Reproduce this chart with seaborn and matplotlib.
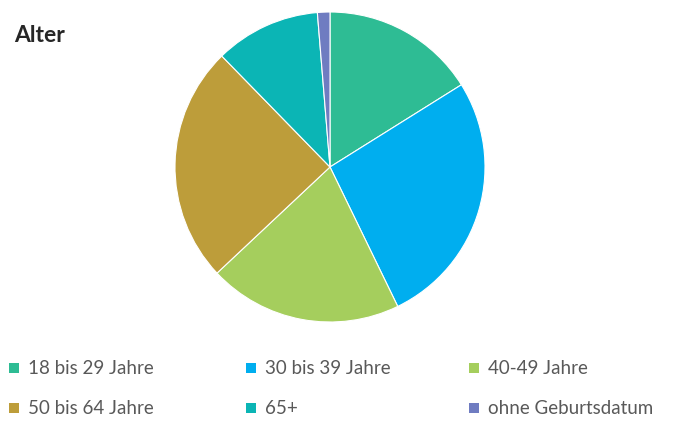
import matplotlib
matplotlib.use("Agg")
import matplotlib.pyplot as plt
import seaborn as sns
from matplotlib.patches import Rectangle

# Daten
kategorien = ["18 bis 29 Jahre", "30 bis 39 Jahre", "40-49 Jahre",
              "50 bis 64 Jahre", "65+", "ohne Geburtsdatum"]
anteile = [16.1, 26.7, 20.2, 24.7, 11.0, 1.3]
farben = ["#2EBC94", "#00AEEF", "#A5CE5D", "#BD9D3A", "#0BB5B5", "#6F7CC1"]

sns.set_theme(style="white")
plt.rcParams["font.family"] = ["Lato", "DejaVu Sans"]

fig = plt.figure(figsize=(6.73, 4.35), dpi=100)
W, H = 673, 435

# Kreis: Mittelpunkt (330,168), Radius 155 px
r = 155
ax = fig.add_axes([(330 - r) / W, 1 - (168 + r) / H, 2 * r / W, 2 * r / H])
ax.pie(anteile, colors=farben, startangle=90, counterclock=False,
       wedgeprops=dict(edgecolor="white", linewidth=0.8))
ax.set_xlim(-1, 1)
ax.set_ylim(-1, 1)
ax.set_aspect("equal")

fig.text(14 / W, 1 - 35 / H, "Alter", fontsize=16.5, fontweight="bold",
         color="#262626", va="center", ha="left")

# Legende manuell in 3 Spalten
spalten_x = [9, 246, 469]
zeilen_y = [369, 409]
for i, (name, farbe) in enumerate(zip(kategorien, farben)):
    x = spalten_x[i % 3]
    y = zeilen_y[i // 3]
    fig.add_artist(Rectangle((x / W, 1 - (y + 5) / H), 10 / W, 10 / H,
                             transform=fig.transFigure, facecolor=farbe,
                             edgecolor="none"))
    fig.text((x + 19) / W, 1 - y / H, name, fontsize=13.5, color="#595959",
             va="center", ha="left")

fig.savefig("out.png", dpi=100)
